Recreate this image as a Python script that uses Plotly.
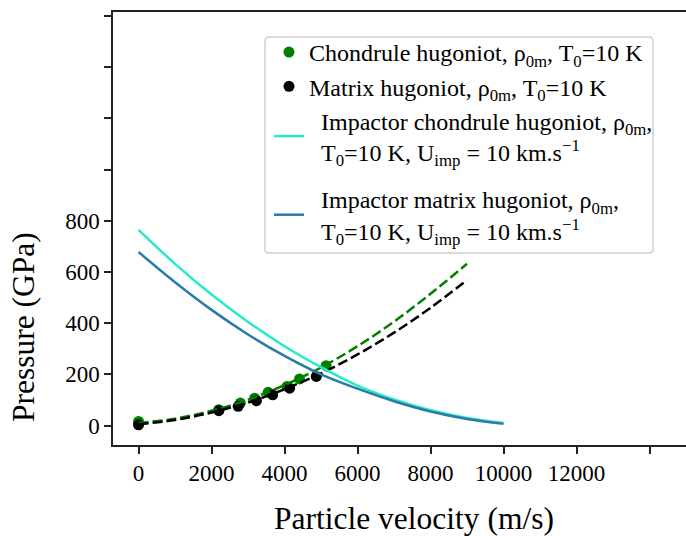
import plotly.graph_objects as go

# ---- data ----
chond_u = [0, 2200, 2790, 3180, 3550, 4070, 4410, 5140]
chond_p = [16, 62, 88, 107, 130, 153, 182, 234]
matrix_u = [0, 2200, 2730, 3230, 3675, 4140, 4870]
matrix_p = [3, 58, 75, 97, 120, 146, 192]

fit_u = [0, 1000, 2000, 3000, 4000, 5000, 6000, 7000, 8000, 9000]
chond_fit_p = [10, 27, 58, 101, 158, 227, 310, 406, 515, 632]
matrix_fit_p = [5, 22, 51, 90, 142, 204, 278, 363, 460, 569]

imp_u = [0, 1000, 2000, 3000, 4000, 5000, 6000, 7000, 8000, 9000, 10000]
imp_chond_p = [765, 632, 512, 405, 310, 228, 156, 102, 60, 30, 10]
imp_matrix_p = [678, 560, 452, 356, 272, 200, 144, 95, 55, 26, 7]

x_ticks = [0, 2000, 4000, 6000, 8000, 10000, 12000]
x_labels = ["0", "2000", "4000", "6000", "8000", "10000", "12000"]
x_minor = [14000]
y_ticks = [0, 200, 400, 600, 800]
y_labels = ["0", "200", "400", "600", "800"]
y_minor = [1000, 1200, 1400, 1600]

FONT = "Liberation Serif"
GREEN = "#008000"
CYAN = "#25EBC8"
BLUE = "#2A7BA6"
IND = "\u00a0\u00a0"

# layout geometry (pixels)
W, H = 686, 536
L, R, T, B = 113, 0, 12, 91
PW, PH = W - L - R, H - T - B


def px_x(px):
    return (px - L) / PW


def px_y(py):
    return (H - B - py) / PH


fig = go.Figure()

fig.add_trace(go.Scatter(x=chond_u, y=chond_p, mode="markers",
                         marker=dict(color=GREEN, size=11),
                         name="Chondrule hugoniot, ρ<sub>0m</sub>, T<sub>0</sub>=10 K",
                         legendgroup="a"))
fig.add_trace(go.Scatter(x=matrix_u, y=matrix_p, mode="markers",
                         marker=dict(color="black", size=11),
                         name="Matrix hugoniot, ρ<sub>0m</sub>, T<sub>0</sub>=10 K",
                         legendgroup="b"))
fig.add_trace(go.Scatter(x=fit_u, y=chond_fit_p, mode="lines", line_shape="spline",
                         line=dict(color=GREEN, width=2.5, dash="10px,4px"),
                         showlegend=False))
fig.add_trace(go.Scatter(x=fit_u, y=matrix_fit_p, mode="lines", line_shape="spline",
                         line=dict(color="black", width=2.5, dash="10px,4px"),
                         showlegend=False))
fig.add_trace(go.Scatter(x=imp_u, y=imp_chond_p, mode="lines", line_shape="spline",
                         line=dict(color=CYAN, width=2.5),
                         name=IND + "Impactor chondrule hugoniot, ρ<sub>0m</sub>,<br>" + IND +
                              "T<sub>0</sub>=10 K, U<sub>imp</sub> = 10 km.s<sup>−1</sup>",
                         legendgroup="c"))
fig.add_trace(go.Scatter(x=imp_u, y=imp_matrix_p, mode="lines", line_shape="spline",
                         line=dict(color=BLUE, width=2.5),
                         name=IND + "Impactor matrix hugoniot, ρ<sub>0m</sub>,<br>" + IND +
                              "T<sub>0</sub>=10 K, U<sub>imp</sub> = 10 km.s<sup>−1</sup>",
                         legendgroup="d", legend="legend2"))

# legend frame (rounded rectangle) drawn as a shape
x0, x1, y0, y1 = px_x(265), px_x(653), px_y(253), px_y(37)
rx, ry = 4 / PW, 4 / PH
frame = (f"M {x0+rx},{y0} L {x1-rx},{y0} Q {x1},{y0} {x1},{y0+ry} "
         f"L {x1},{y1-ry} Q {x1},{y1} {x1-rx},{y1} L {x0+rx},{y1} "
         f"Q {x0},{y1} {x0},{y1-ry} L {x0},{y0+ry} Q {x0},{y0} {x0+rx},{y0} Z")

axis_common = dict(showgrid=False, zeroline=False, showline=True, linecolor="#222",
                   linewidth=1.5, ticks="outside", ticklen=7, tickwidth=1.5,
                   tickcolor="#222", tickfont=dict(family=FONT, size=23))

legend_common = dict(xanchor="left", yanchor="top", bgcolor="rgba(0,0,0,0)",
                     borderwidth=0, font=dict(family=FONT, size=24, color="black"),
                     tracegroupgap=14, traceorder="normal")

fig.update_layout(
    width=W, height=H,
    margin=dict(l=L, r=R, t=T, b=B),
    paper_bgcolor="white", plot_bgcolor="white",
    font=dict(family=FONT, color="black", size=24),
    showlegend=True,
    legend=dict(x=px_x(269), y=px_y(30), **legend_common),
    legend2=dict(x=px_x(269), y=px_y(177), **legend_common),
    shapes=[dict(type="path", path=frame, xref="paper", yref="paper",
                 line=dict(color="#d0d0d0", width=1.5), fillcolor="white",
                 layer="above")],
    annotations=[
        dict(text="Particle velocity (m/s)", xref="paper", yref="paper",
             x=px_x(414), y=px_y(518), xanchor="center", yanchor="middle",
             showarrow=False, font=dict(family=FONT, size=31.5)),
        dict(text="Pressure (GPa)", xref="paper", yref="paper", textangle=-90,
             x=px_x(23), y=px_y(327), xanchor="center", yanchor="middle",
             showarrow=False, font=dict(family=FONT, size=31.5)),
    ],
    xaxis=dict(range=[-700, 15000], tickvals=x_ticks, ticktext=x_labels, mirror=True,
               minor=dict(tickvals=x_minor, ticks="outside", ticklen=7, tickwidth=1.5,
                          tickcolor="#222", showgrid=False),
               **axis_common),
    yaxis=dict(range=[-76, 1616], tickvals=y_ticks, ticktext=y_labels,
               minor=dict(tickvals=y_minor, ticks="outside", ticklen=7, tickwidth=1.5,
                          tickcolor="#222", showgrid=False),
               **axis_common),
)

fig.write_html("out.html")
